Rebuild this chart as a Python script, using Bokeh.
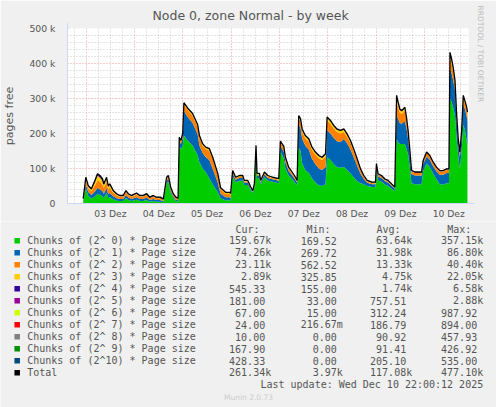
import numpy as np
from bokeh.plotting import figure
from bokeh.models import ColumnDataSource, Range1d, FixedTicker, Title, Arrow, NormalHead
from bokeh.layouts import column, row
from bokeh.embed import file_html
from bokeh.resources import INLINE
from bokeh.core.properties import value

# ---------------- data (hours since 03 Dez 00:00, values in thousands of pages) ----------------
hours = [-1.5, -0.2, 1.0, 2.6, 4.3, 5.6, 6.8, 8.1, 8.7, 10.1, 10.9, 11.7, 13.4, 15.1, 16.7, 18.4,
         19.7, 20.9, 22.5, 25.0, 26.6, 28.3, 30.0, 31.6, 33.3, 34.9, 36.6, 38.3, 39.9, 40.8, 41.9,
         43.2, 44.5, 45.6, 46.2, 47.0, 47.9, 48.5, 50.3, 52.8, 55.3, 56.2, 57.8, 59.3, 61.1, 62.8,
         65.3, 66.7, 69.2, 71.2, 71.7, 72.7, 74.2, 76.0, 77.7, 78.5, 80.2, 81.7, 82.7, 83.5, 84.3,
         84.8, 86.0, 86.6, 88.5, 90.1, 92.6, 95.6, 96.4, 98.1, 98.9, 100.5, 102.2, 103.9, 104.7,
         105.5, 106.4, 107.2, 108.8, 110.5, 112.1, 113.8, 115.5, 117.1, 118.8, 119.6, 121.3, 122.9,
         124.5, 126.2, 127.9, 129.5, 131.2, 132.8, 134.5, 136.2, 137.8, 139.5, 141.9, 143.6, 144.1,
         144.9, 146.6, 148.3, 149.9, 151.6, 153.2, 154.1, 154.9, 155.7, 156.6, 157.4, 158.2, 159.0,
         159.8, 160.7, 161.5, 163.2, 166.5, 167.3, 169.0, 170.6, 172.3, 173.9, 175.6, 177.2, 178.9,
         180.1, 180.6, 181.4, 182.2, 183.1, 183.9, 184.7, 185.5, 186.4, 187.2, 188.0, 188.9, 189.3]

chunks_2_0 = [6, 42, 22, 14, 20, 28, 25, 20, 16, 30, 16, 18, 12, 8, 7, 7,
              16, 10, 7, 11, 7, 7, 10, 5, 7, 5, 5, 4, 58, 62, 32,
              15, 7, 5, 165, 155, 165, 194, 180, 166, 138, 118, 100, 90, 72, 55,
              32, 14, 9, 9, 8, 78, 61, 65, 65, 53, 53, 37, 29, 46, 150,
              72, 72, 54, 75, 66, 62, 58, 150, 128, 100, 80, 70, 58, 52,
              160, 150, 115, 95, 88, 72, 60, 52, 50, 55, 132, 124, 112,
              104, 102, 104, 96, 86, 75, 64, 58, 55, 50, 47, 47, 92,
              66, 62, 54, 50, 42, 35, 185, 175, 170, 170, 170, 170, 155,
              140, 100, 58, 55, 55, 92, 114, 104, 84, 70, 54, 54, 58,
              58, 300, 290, 275, 250, 185, 135, 100, 150, 225, 210, 180, 160]

chunks_2_1 = [3, 13, 11, 10, 14, 16, 16, 15, 12, 14, 11, 12, 9, 7, 6, 6,
              8, 7, 6, 7, 6, 6, 7, 5, 6, 5, 5, 3, 7, 8, 6,
              5, 4, 4, 14, 15, 22, 70, 68, 64, 60, 48, 44, 43, 52, 44,
              28, 14, 9, 9, 8, 8, 7, 8, 8, 7, 7, 5, 4, 5, 9,
              8, 8, 6, 8, 7, 7, 7, 15, 20, 18, 13, 11, 9, 8,
              65, 66, 70, 70, 66, 56, 52, 48, 46, 49, 77, 76, 75,
              74, 73, 80, 76, 68, 57, 44, 27, 15, 9, 8, 8, 12,
              11, 11, 10, 10, 9, 8, 70, 66, 60, 58, 62, 65, 60,
              45, 35, 26, 25, 25, 20, 20, 21, 22, 22, 28, 28, 29,
              29, 86, 82, 78, 72, 52, 36, 33, 42, 60, 60, 70, 74]

chunks_2_2 = [3, 12, 11, 11, 18, 22, 21, 19, 16, 18, 14, 15, 10, 8, 6, 6,
              8, 7, 6, 7, 6, 6, 7, 5, 6, 5, 5, 3, 6, 6, 5,
              5, 4, 3, 7, 7, 10, 18, 20, 21, 22, 23, 22, 23, 27, 28,
              22, 13, 9, 9, 8, 5, 4, 4, 4, 3, 3, 2, 1.5, 3, 4,
              3, 3, 3, 4, 4, 3, 3, 9, 11, 10, 7, 5, 4, 3,
              18, 18, 20, 21, 23, 25, 27, 29, 28, 30, 28, 28, 27,
              26, 25, 20, 19, 19, 18, 15, 10, 7, 4, 3, 3, 7,
              5, 4, 3, 3, 2, 1, 38, 34, 30, 28, 28, 30, 24,
              17, 11, 8, 7, 7, 8, 10, 9, 9, 9, 9, 9, 9,
              9, 32, 28, 25, 21, 14, 10, 10, 12, 17, 17, 20, 23]

chunks_2_3 = [1, 5, 4, 4, 9, 13, 12, 11, 8, 9, 6, 7, 4, 3, 2, 2,
              3, 2, 2, 3, 2, 2, 2, 1, 2, 1, 1, 1, 2, 2, 2,
              1, 1, 1, 2, 2, 2, 4, 4, 5, 5, 4, 4, 4, 5, 4,
              3, 3, 4, 4, 4, 2, 2, 2, 2, 2, 2, 2, 1.5, 2, 2,
              2, 2, 2, 2, 2, 2, 2, 3, 3, 3, 3, 3, 3, 2,
              6, 6, 6, 6, 6, 6, 6, 6, 6, 6, 8, 7, 7,
              7, 7, 7, 6, 5, 4, 3, 2, 1, 1, 1, 1, 1,
              1, 1, 1, 1, 1, 1, 12, 10, 7, 7, 7, 7, 5,
              4, 3, 1, 1, 1, 1, 1, 1, 1, 1, 1, 1, 1,
              1, 10, 9, 8, 5, 3, 2, 2, 3, 5, 5, 3, 3]

chunks_2_4 = [0.6, 2, 2, 2, 3, 4, 4, 3, 2, 2, 2, 2, 1, 1, 1, 1,
              1, 1, 1, 1, 1, 1, 1, 1, 1, 1, 1, 1, 1, 1, 1,
              1, 1, 1, 0.6, 0.6, 0.6, 1.2, 0.6, 0.6, 0.6, 0.6, 0.6, 0.6, 0.6, 0.6,
              0.6, 0.6, 0.6, 0.6, 0.6, 0.6, 0.6, 0.6, 0.6, 0.6, 0.6, 0.6, 0.6, 0.6, 0.6,
              0.6, 0.6, 0.6, 0.6, 0.6, 0.6, 0.6, 0.6, 0.6, 0.6, 0.6, 0.6, 0.6, 0.6,
              1.2, 1.2, 1.2, 1.2, 1.2, 1.2, 1.2, 1.2, 1.2, 1.2, 1.2, 1.2, 1.2,
              1.2, 1.2, 1.2, 1.2, 1.2, 1.2, 1.2, 1.2, 1.2, 1.2, 1.2, 1.2, 1.2,
              1.2, 1.2, 1.2, 1.2, 1.2, 1.2, 3, 3, 2, 2, 2, 2, 2,
              2, 1.2, 1.2, 1.2, 1.2, 1.2, 1.2, 1.2, 1.2, 1.2, 1.2, 1.2, 1.2,
              1.2, 3, 3, 2, 2, 1.2, 1.2, 1.2, 1.2, 1.2, 1.2, 1.2, 0.6]

chunks_2_5 = [0.4, 1, 1, 1, 2, 2, 2, 2, 2, 2, 2, 2, 1, 1, 1, 1,
              1, 1, 1, 1, 1, 1, 1, 1, 1, 1, 1, 1, 1, 1, 1,
              1, 1, 1, 0.4, 0.4, 0.4, 0.8, 0.4, 0.4, 0.4, 0.4, 0.4, 0.4, 0.4, 0.4,
              0.4, 0.4, 0.4, 0.4, 0.4, 0.4, 0.4, 0.4, 0.4, 0.4, 0.4, 0.4, 0.4, 0.4, 0.4,
              0.4, 0.4, 0.4, 0.4, 0.4, 0.4, 0.4, 0.4, 0.4, 0.4, 0.4, 0.4, 0.4, 0.4,
              0.8, 0.8, 0.8, 0.8, 0.8, 0.8, 0.8, 0.8, 0.8, 0.8, 0.8, 0.8, 0.8,
              0.8, 0.8, 0.8, 0.8, 0.8, 0.8, 0.8, 0.8, 0.8, 0.8, 0.8, 0.8, 0.8,
              0.8, 0.8, 0.8, 0.8, 0.8, 0.8, 1, 1, 1, 1, 1, 1, 1,
              1, 0.8, 0.8, 0.8, 0.8, 0.8, 0.8, 0.8, 0.8, 0.8, 0.8, 0.8, 0.8,
              0.8, 1, 1, 1, 1, 0.8, 0.8, 0.8, 0.8, 0.8, 0.8, 0.8, 0.4]

day_labels = ["03 Dez", "04 Dez", "05 Dez", "06 Dez", "07 Dez", "08 Dez", "09 Dez", "10 Dez"]
y_tick_values = [0, 100, 200, 300, 400, 500]
y_tick_labels = ["0", "100 k", "200 k", "300 k", "400 k", "500 k"]

legend_names = ["Chunks of (2^ 0) * Page size", "Chunks of (2^ 1) * Page size",
                "Chunks of (2^ 2) * Page size", "Chunks of (2^ 3) * Page size",
                "Chunks of (2^ 4) * Page size", "Chunks of (2^ 5) * Page size",
                "Chunks of (2^ 6) * Page size", "Chunks of (2^ 7) * Page size",
                "Chunks of (2^ 8) * Page size", "Chunks of (2^ 9) * Page size",
                "Chunks of (2^10) * Page size", "Total"]
legend_colors = ["#00CC00", "#0066B3", "#FF8000", "#FFCC00", "#330099", "#990099",
                 "#CCFF00", "#FF0000", "#808080", "#008F00", "#00487D", "#000000"]
cur_vals = ["159.67k", "74.26k", "23.11k", "2.89k", "545.33", "181.00", "67.00", "24.00",
            "10.00", "167.90", "428.33", "261.34k"]
min_vals = ["169.52", "269.72", "562.52", "325.85", "155.00", "33.00", "15.00", "216.67m",
            "0.00", "0.00", "0.00", "3.97k"]
avg_vals = ["63.64k", "31.98k", "13.33k", "4.75k", "1.74k", "757.51", "312.24", "186.79",
            "90.92", "91.41", "205.10", "117.08k"]
max_vals = ["357.15k", "86.80k", "40.40k", "22.05k", "6.58k", "2.88k", "987.92", "894.00",
            "457.93", "426.92", "535.00", "477.10k"]
headers = ["Cur:", "Min:", "Avg:", "Max:"]
last_update = "Last update: Wed Dec 10 22:00:12 2025"
title_text = "Node 0, zone Normal - by week"

# ---------------- styles / layout constants ----------------
BG = "#F0F0F0"
FONT_C = "#555555"
AXIS_C = "#CFD6F8"
SANS = "DejaVu Sans"
MONO = "DejaVu Sans Mono"
FW, FH = 401, 175

series = [chunks_2_0, chunks_2_1, chunks_2_2, chunks_2_3, chunks_2_4, chunks_2_5]
keys = ["c%d" % i for i in range(len(series))]
data = {"h": hours}
for k, s in zip(keys, series):
    data[k] = s
data["total"] = list(np.sum(np.array(series, dtype=float), axis=0))
src = ColumnDataSource(data)

p = figure(frame_width=FW, frame_height=FH, x_range=Range1d(-9.3, 189.8), y_range=Range1d(0, 500),
           toolbar_location=None, output_backend="svg",
           min_border_left=67, min_border_right=28, min_border_top=28, min_border_bottom=17,
           background_fill_color="white", border_fill_color=BG)
p.outline_line_color = None

p.varea_stack(stackers=keys, x="h", color=legend_colors[:len(keys)], source=src)
p.line(x="h", y="total", color="black", line_width=1.3, source=src)

# title
p.title.text = title_text
p.title.align = "left"
p.title.offset = 82
p.title.text_font = SANS
p.title.text_font_size = "12.5px"
p.title.text_font_style = "normal"
p.title.text_color = FONT_C
p.title.padding = 3
p.title.standoff = 5

p.add_layout(Title(text="RRDTOOL / TOBI OETIKER", align="left", offset=-23, standoff=15,
                   text_font=SANS, text_font_size="7.5px", text_font_style="normal",
                   text_color="#BBBBBB"), "right")

# x axis
p.xaxis.ticker = FixedTicker(ticks=[12 + 24 * i for i in range(len(day_labels))])
p.xaxis.major_label_overrides = {12 + 24 * i: lab for i, lab in enumerate(day_labels)}
p.xaxis.axis_line_color = AXIS_C
p.xaxis.major_tick_line_color = None
p.xaxis.minor_tick_line_color = None
p.xaxis.major_label_standoff = -2
p.xaxis.major_label_text_font = SANS
p.xaxis.major_label_text_font_size = "9.2px"
p.xaxis.major_label_text_color = FONT_C

# y axis
p.yaxis.ticker = FixedTicker(ticks=y_tick_values)
p.yaxis.major_label_overrides = dict(zip(y_tick_values, y_tick_labels))
p.yaxis.axis_line_color = AXIS_C
p.yaxis.major_tick_line_color = None
p.yaxis.minor_tick_line_color = None
p.yaxis.major_label_standoff = 6
p.yaxis.major_label_text_font = SANS
p.yaxis.major_label_text_font_size = "9.3px"
p.yaxis.major_label_text_color = FONT_C
p.yaxis.axis_label = "pages free"
p.yaxis.axis_label_text_font = SANS
p.yaxis.axis_label_text_font_size = "11px"
p.yaxis.axis_label_text_font_style = "normal"
p.yaxis.axis_label_text_color = FONT_C
p.yaxis.axis_label_standoff = 10

# grids
n_days = len(day_labels)
p.xgrid.ticker = FixedTicker(ticks=[24 * i for i in range(n_days)],
                             minor_ticks=[6 * j for j in range(-1, 32) if j % 4 != 0])
p.ygrid.ticker = FixedTicker(ticks=y_tick_values[1:],
                             minor_ticks=[v for v in range(20, 500, 20) if v % 100 != 0])
for g in (p.xgrid, p.ygrid):
    g.grid_line_color = "#EE9999"
    g.grid_line_dash = "1 2"
    g.minor_grid_line_color = "#C8C8C8"
    g.minor_grid_line_dash = "1 2"

# axis arrows
p.add_layout(Arrow(end=NormalHead(size=5, fill_color=AXIS_C, line_color=AXIS_C),
                   x_start=-9.3, y_start=495, x_end=-9.3, y_end=515, line_color=AXIS_C))
p.add_layout(Arrow(end=NormalHead(size=5, fill_color=AXIS_C, line_color=AXIS_C),
                   x_start=188, y_start=0, x_end=192.5, y_end=0, line_color=AXIS_C))

# ---------------- legend panel (pixel coordinates, y downward) ----------------
LW, LH = 496, 186
leg = figure(width=LW, height=LH, x_range=Range1d(0, LW), y_range=Range1d(LH, 0),
             toolbar_location=None, output_backend="svg", x_axis_type=None, y_axis_type=None,
             min_border_left=0, min_border_right=0, min_border_top=0, min_border_bottom=0,
             background_fill_color=BG, border_fill_color=BG)
leg.outline_line_color = None
leg.grid.visible = False

row_y = [19.3 + 12 * i for i in range(len(legend_names))]
CHAR_W = 6.02
mono = dict(text_font=value(MONO), text_font_size="10px", text_color=FONT_C,
            text_baseline="middle")

leg.rect(x=[16.7] * len(row_y), y=row_y, width=5.5, height=5.5, color=legend_colors,
         line_color=None)
leg.text(x=[26.7] * len(row_y), y=row_y, text=legend_names, text_align="left", **mono)

col_right = [270.7, 342.3, 411.7, 482.7]
for cr, vals in zip(col_right, [cur_vals, min_vals, avg_vals, max_vals]):
    xs = [cr - (0 if v[-1].isalpha() else CHAR_W) for v in vals]
    leg.text(x=xs, y=row_y, text=vals, text_align="right", **mono)

leg.text(x=[235, 306, 376, 446.7], y=[7.7] * 4, text=headers, text_align="left", **mono)
leg.text(x=[482.7], y=[163.3], text=[last_update], text_align="right", **mono)
leg.text(x=[248], y=[176], text=["Munin 2.0.73"], text_font=value(SANS), text_font_size="7.5px",
         text_color="#CCCCCC", text_baseline="middle", text_align="center")

layout = column(p, row(leg))
open("out.html", "w").write(file_html(layout, INLINE))
